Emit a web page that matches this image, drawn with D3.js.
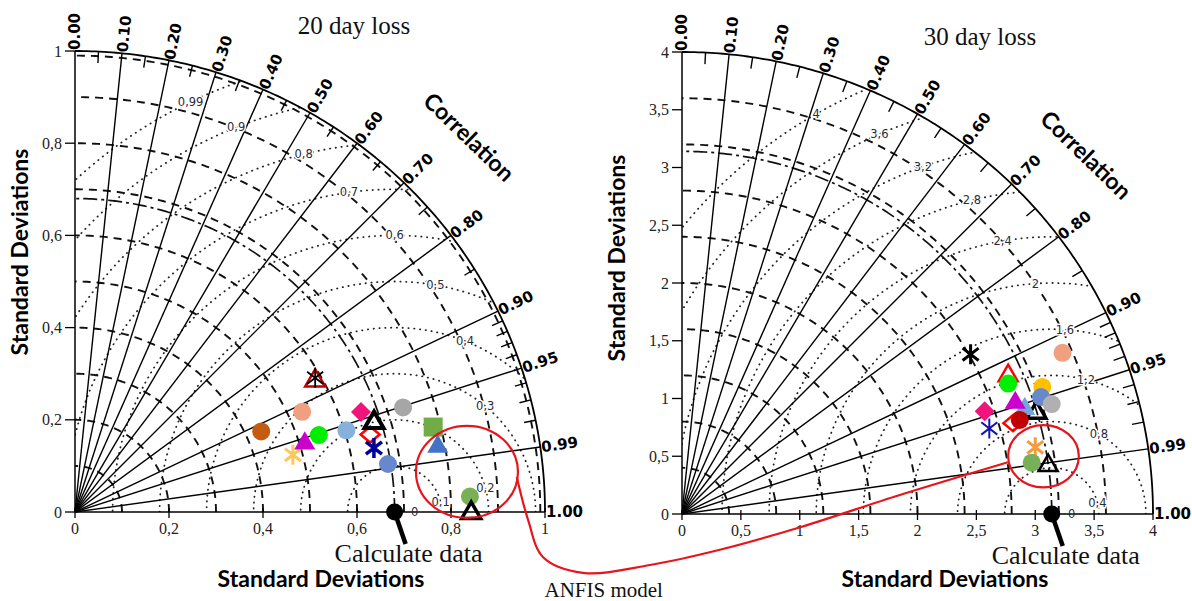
<!DOCTYPE html>
<html>
<head>
<meta charset="utf-8">
<script src="https://cdn.jsdelivr.net/npm/d3@7"></script>
<style>
  body { margin: 0; background: #fff; }
  svg { display: block; }
</style>
</head>
<body>
<svg id="chart" width="1192" height="601"></svg>
<script>
// correlation grid (shared by both diagrams)
const corrLines = [0.1, 0.2, 0.3, 0.4, 0.5, 0.6, 0.7, 0.8, 0.9, 0.95, 0.99];
const corrLabels = [0, 0.1, 0.2, 0.3, 0.4, 0.5, 0.6, 0.7, 0.8, 0.9, 0.95, 0.99, 1];
const corrMinor = [0.05, 0.15, 0.25, 0.35, 0.45, 0.55, 0.65, 0.75, 0.85,
                   0.91, 0.92, 0.93, 0.94, 0.96, 0.97, 0.98];

// 20 day loss
const loss20Ticks = [0, 0.2, 0.4, 0.6, 0.8, 1];
const loss20StdArcs = [0.1, 0.2, 0.3, 0.4, 0.5, 0.6, 0.7, 0.8, 0.9, 0.99];
const loss20RmsArcs = [0.1, 0.2, 0.3, 0.4, 0.5, 0.6, 0.7, 0.8, 0.9, 0.99];
const loss20RmsLabels = ["0,1", "0,2", "0,3", "0,4", "0,5", "0,6", "0,7", "0,8", "0,9", "0,99"];
const loss20Ref = 0.68;
const loss20Std = [0.433, 0.530, 0.480, 0.513, 0.545, 0.604, 0.646, 0.650, 0.667,
                   0.651, 0.674, 0.734, 0.784, 0.786, 0.841, 0.843, 0.588];
const loss20Corr = [0.915, 0.912, 0.966, 0.953, 0.952, 0.956, 0.942, 0.966, 0.954,
                    0.977, 0.988, 0.951, 0.972, 0.982, 0.9992, 0.99999, 0.869];

// 30 day loss
const loss30Ticks = [0, 0.5, 1, 1.5, 2, 2.5, 3, 3.5, 4];
const loss30StdArcs = [0.4, 0.8, 1.2, 1.6, 2.0, 2.4, 2.8, 3.2, 3.6];
const loss30RmsArcs = [0.4, 0.8, 1.2, 1.6, 2.0, 2.4, 2.8, 3.2, 3.6, 4.0];
const loss30RmsLabels = ["0,4", "0,8", "1,2", "1,6", "2", "2,4", "2,8", "3,2", "3,6", "4"];
const loss30Ref = 3.14;
const loss30Std = [3.142, 3.058, 2.998, 3.027, 2.992, 3.252, 3.213, 3.281, 3.520,
                   2.814, 2.720, 2.919, 2.982, 2.713, 3.055, 3.003, 3.141];
const loss30Corr = [0.958, 0.952, 0.944, 0.915, 0.926, 0.941, 0.949, 0.957, 0.918,
                    0.871, 0.945, 0.963, 0.962, 0.962, 0.982, 0.989, 0.990];

// marker look for each model (same order as the values above)
const loss20Style = [
  ["dot", "#C55A11"], ["dot", "#F0A080"], ["star", "#FFC65A", 3], ["tri", "#CC00CC"],
  ["dot", "#00EE00"], ["dot", "#88B0DC"], ["dia", "#F0147C"], ["diaOpen", "#FF0000"],
  ["triOpen", "#000000", 4], ["star", "#00009A", 3.5], ["dot", "#6688CC"], ["dot", "#A6A6A6"],
  ["sq", "#70AD47"], ["tri", "#4472C4"], ["dot", "#78B058"], ["triOpen", "#000000", 3.5],
  ["triStar", "#C00000"]
];
const loss30Style = [
  ["triOpen", "#000000", 3.5], ["tri", "#75A5DA"], ["tri", "#CC00CC"], ["triOpen", "#FF0000", 2.5],
  ["dot", "#00EE00"], ["dot", "#FFC000"], ["dot", "#6688CC"], ["dot", "#B0B0B0"],
  ["dot", "#F0A080"], ["star", "#000000", 3], ["dia", "#F0147C"], ["diaOpen", "#FF0000"],
  ["dot", "#C00000"], ["star", "#1414B4", 2], ["star", "#F79A3E", 3], ["dot", "#78B058"],
  ["triOpen", "#000000", 2.5]
];

// where the small RMS labels sit on their circles (degrees, seen from the reference point)
const loss20LabelAngle = [12, 15, 50, 68, 80, 90, 98, 104, 112, 116];
const loss30LabelAngle = [14, 60, 76, 86, 94, 100, 104, 110, 114, 120];

// ANFIS highlight (ellipse centres / radii in each diagram's own units)
const anfis20 = { cx: 0.834, cy: 0.087, rx: 0.1085, ry: 0.1 };
const anfis30 = { cx: 3.07, cy: 0.50, rx: 0.30, ry: 0.27 };
// connecting curve, in 20 day loss units
const anfisLink = [[0.940, 0.076], [0.964, -0.017], [0.996, -0.098], [1.081, -0.132],
                   [1.223, -0.115], [1.372, -0.082], [1.543, -0.033], [1.755, 0.037],
                   [1.985, 0.108]];

const svg = d3.select("#chart");
svg.append("rect").attr("width", 1192).attr("height", 601).attr("fill", "#fff");

const fmt = (d) => String(d).replace(".", ",");
const rad = Math.PI / 180;

const panels = [
  {
    id: "d20", title: "20 day loss", max: 1, ticks: loss20Ticks,
    stdArcs: loss20StdArcs, rmsArcs: loss20RmsArcs, rmsLabels: loss20RmsLabels,
    labelAngle: loss20LabelAngle, ref: loss20Ref, std: loss20Std, corr: loss20Corr,
    style: loss20Style, anfis: anfis20,
    xRange: [75, 545], yRange: [512, 51],
    titlePos: [354, 34], yLabelPos: [28, 252], xLabelPos: [321, 587], corrPos: [469, 137]
  },
  {
    id: "d30", title: "30 day loss", max: 4, ticks: loss30Ticks,
    stdArcs: loss30StdArcs, rmsArcs: loss30RmsArcs, rmsLabels: loss30RmsLabels,
    labelAngle: loss30LabelAngle, ref: loss30Ref, std: loss30Std, corr: loss30Corr,
    style: loss30Style, anfis: anfis30,
    xRange: [682, 1153], yRange: [514, 52],
    titlePos: [980, 45], yLabelPos: [625, 258], xLabelPos: [945, 587], corrPos: [1086, 155]
  }
];

function drawMark(g, kind, color, w, cx, cy) {
  const m = g.append("g").attr("transform", `translate(${cx},${cy})`);
  const tri = (s) => {
    const h = s * 0.866;
    return `M0,${-h / 2}L${s / 2},${h / 2}L${-s / 2},${h / 2}Z`;
  };
  const star = (a, col, sw) => {
    m.append("path")
      .attr("d", `M0,${-a}V${a}M${-a * 0.8},${-a * 0.62}L${a * 0.8},${a * 0.62}M${-a * 0.8},${a * 0.62}L${a * 0.8},${-a * 0.62}`)
      .attr("stroke", col).attr("stroke-width", sw).attr("fill", "none");
  };
  if (kind === "dot") {
    m.append("circle").attr("r", 9).attr("fill", color);
  } else if (kind === "tri") {
    m.append("path").attr("d", tri(21)).attr("fill", color);
  } else if (kind === "triOpen") {
    m.append("path").attr("d", tri(19)).attr("fill", "none")
      .attr("stroke", color).attr("stroke-width", w || 3).attr("stroke-linejoin", "miter");
  } else if (kind === "dia") {
    m.append("path").attr("d", "M0,-10L10,0L0,10L-10,0Z").attr("fill", color);
  } else if (kind === "diaOpen") {
    m.append("path").attr("d", "M0,-8L9.5,0L0,8L-9.5,0Z").attr("fill", "none")
      .attr("stroke", color).attr("stroke-width", 2.5);
  } else if (kind === "sq") {
    m.append("rect").attr("x", -9.5).attr("y", -9.5).attr("width", 19).attr("height", 19).attr("fill", color);
  } else if (kind === "star") {
    star(10, color, w || 3);
  } else if (kind === "triStar") {
    m.append("path").attr("d", tri(20)).attr("fill", "none")
      .attr("stroke", color).attr("stroke-width", 2.5);
    star(10, "#000", 1.8);
  }
}

const scales = {};

panels.forEach((p) => {
  const x = d3.scaleLinear().domain([0, p.max]).range(p.xRange);
  const y = d3.scaleLinear().domain([0, p.max]).range(p.yRange);
  scales[p.id] = { x, y };
  const g = svg.append("g").attr("class", "taylor " + p.id);
  const pt = (r, th) => [x(r * Math.cos(th)), y(r * Math.sin(th))];
  const quarter = d3.range(0, 90.25, 0.5).map((a) => a * rad);
  const arc = (r) => d3.line()(quarter.map((t) => pt(r, t)));

  // clip region = inside the quarter circle
  const clipId = "clip-" + p.id;
  g.append("clipPath").attr("id", clipId).append("path")
    .attr("d", d3.line()([[x(0), y(0)], ...quarter.map((t) => pt(p.max, t))]) + "Z");

  // RMS circles around the reference point (dotted)
  const half = d3.range(0, 180.5, 1).map((a) => a * rad);
  const rms = g.append("g").attr("clip-path", `url(#${clipId})`);
  p.rmsArcs.forEach((d) => {
    rms.append("path")
      .attr("d", d3.line()(half.map((f) => [x(p.ref + d * Math.cos(f)), y(d * Math.sin(f))])))
      .attr("fill", "none").attr("stroke", "#222").attr("stroke-width", 1.8)
      .attr("stroke-linecap", "round").attr("stroke-dasharray", "0.3,5.5");
  });

  // standard deviation arcs (dashed) and the reference arc (dash-dot)
  p.stdArcs.forEach((r) => {
    g.append("path").attr("d", arc(r)).attr("fill", "none")
      .attr("stroke", "#111").attr("stroke-width", 1.9).attr("stroke-dasharray", "8,6");
  });
  g.append("path").attr("d", arc(p.ref)).attr("fill", "none")
    .attr("stroke", "#111").attr("stroke-width", 1.7).attr("stroke-dasharray", "14,4,3,4");

  // correlation rays
  corrLines.forEach((c) => {
    const th = Math.acos(c);
    g.append("line")
      .attr("x1", x(0)).attr("y1", y(0))
      .attr("x2", pt(p.max, th)[0]).attr("y2", pt(p.max, th)[1])
      .attr("stroke", "#000").attr("stroke-width", 1.4);
  });
  corrMinor.forEach((c) => {
    const th = Math.acos(c);
    const a = pt(p.max * 0.975, th), b = pt(p.max, th);
    g.append("line").attr("x1", a[0]).attr("y1", a[1]).attr("x2", b[0]).attr("y2", b[1])
      .attr("stroke", "#000").attr("stroke-width", 1.4);
  });

  // outer arc and axes
  g.append("path").attr("d", arc(p.max)).attr("fill", "none")
    .attr("stroke", "#000").attr("stroke-width", 1.8);
  g.append("line").attr("x1", x(0)).attr("y1", y(0)).attr("x2", x(0)).attr("y2", y(p.max))
    .attr("stroke", "#000").attr("stroke-width", 1.5);
  g.append("line").attr("x1", x(0)).attr("y1", y(0)).attr("x2", x(p.max)).attr("y2", y(0))
    .attr("stroke", "#000").attr("stroke-width", 1.5);

  // axis ticks and tick labels
  p.ticks.forEach((t) => {
    g.append("line").attr("x1", x(0) - 10).attr("x2", x(0)).attr("y1", y(t)).attr("y2", y(t))
      .attr("stroke", "#000").attr("stroke-width", 1.3);
    g.append("line").attr("x1", x(t)).attr("x2", x(t)).attr("y1", y(0) - 4).attr("y2", y(0) + 6)
      .attr("stroke", "#000").attr("stroke-width", 1.3);
    g.append("text").attr("x", x(0) - 13).attr("y", y(t)).attr("dy", "0.35em")
      .attr("text-anchor", "end").attr("font-family", "Liberation Serif, serif")
      .attr("font-size", 16).attr("fill", "#222").text(fmt(t));
    g.append("text").attr("x", x(t)).attr("y", y(0) + 22)
      .attr("text-anchor", "middle").attr("font-family", "Liberation Serif, serif")
      .attr("font-size", 16).attr("fill", "#222").text(fmt(t));
  });

  // correlation labels around the arc
  corrLabels.forEach((c) => {
    const th = Math.acos(c);
    const [px, py] = pt(p.max, th);
    g.append("text")
      .attr("transform", `translate(${px},${py}) rotate(${-th / rad})`)
      .attr("x", 1).attr("dy", "0.36em")
      .attr("font-family", "DejaVu Sans, sans-serif").attr("font-weight", "bold")
      .attr("font-size", 15).attr("fill", "#000").text(c.toFixed(2));
  });

  // RMS labels
  p.rmsArcs.forEach((d, i) => {
    const f = p.labelAngle[i] * rad;
    g.append("text")
      .attr("x", x(p.ref + d * Math.cos(f))).attr("y", y(d * Math.sin(f))).attr("dy", "0.35em")
      .attr("text-anchor", "middle").attr("font-family", "DejaVu Sans, sans-serif")
      .attr("font-size", 11.5).attr("fill", "#2a2a3a")
      .attr("stroke", "#fff").attr("stroke-width", 3).attr("paint-order", "stroke")
      .text(p.rmsLabels[i]);
  });
  g.append("text").attr("x", x(p.ref) + 20).attr("y", y(0)).attr("dy", "0.35em")
    .attr("text-anchor", "middle").attr("font-family", "DejaVu Sans, sans-serif")
    .attr("font-size", 11.5).attr("fill", "#2a2a3a").text("0");

  // model points
  p.std.forEach((s, i) => {
    const [px, py] = pt(s, Math.acos(p.corr[i]));
    const [kind, color, w] = p.style[i];
    drawMark(g, kind, color, w, px, py);
  });

  // reference ("Calculate data")
  const rx0 = x(p.ref), ry0 = y(0);
  g.append("line").attr("x1", rx0).attr("y1", ry0).attr("x2", rx0 + 11).attr("y2", ry0 + 32)
    .attr("stroke", "#000").attr("stroke-width", 4.5);
  g.append("circle").attr("cx", rx0).attr("cy", ry0).attr("r", 8.5).attr("fill", "#000");
  g.append("text").attr("x", rx0 + 14).attr("y", ry0 + 50).attr("text-anchor", "middle")
    .attr("font-family", "Liberation Serif, serif").attr("font-size", 26).attr("fill", "#111")
    .text("Calculate data");

  // ANFIS ellipse
  g.append("ellipse")
    .attr("cx", x(p.anfis.cx)).attr("cy", y(p.anfis.cy))
    .attr("rx", x(p.anfis.rx) - x(0)).attr("ry", y(0) - y(p.anfis.ry))
    .attr("fill", "none").attr("stroke", "#E8141B").attr("stroke-width", 2.2);

  // titles and axis names
  g.append("text").attr("x", p.titlePos[0]).attr("y", p.titlePos[1]).attr("text-anchor", "middle")
    .attr("font-family", "Liberation Serif, serif").attr("font-size", 25).attr("fill", "#111")
    .text(p.title);
  g.append("text")
    .attr("transform", `translate(${p.yLabelPos[0]},${p.yLabelPos[1]}) rotate(-90)`)
    .attr("text-anchor", "middle").attr("font-family", "Lato, sans-serif").attr("font-weight", "bold")
    .attr("font-size", 23).attr("fill", "#000").text("Standard Deviations");
  g.append("text").attr("x", p.xLabelPos[0]).attr("y", p.xLabelPos[1]).attr("text-anchor", "middle")
    .attr("font-family", "Lato, sans-serif").attr("font-weight", "bold")
    .attr("font-size", 23).attr("fill", "#000").text("Standard Deviations");
  g.append("text")
    .attr("transform", `translate(${p.corrPos[0]},${p.corrPos[1]}) rotate(44)`)
    .attr("text-anchor", "middle").attr("dy", "0.35em")
    .attr("font-family", "Lato, sans-serif").attr("font-weight", "bold")
    .attr("font-size", 23).attr("fill", "#000").text("Correlation");
});

// ANFIS connector between the two highlighted groups
const s20 = scales.d20;
svg.append("path")
  .attr("d", d3.line().curve(d3.curveCatmullRom)(anfisLink.map((d) => [s20.x(d[0]), s20.y(d[1])])))
  .attr("fill", "none").attr("stroke", "#E8141B").attr("stroke-width", 2.2);
svg.append("text").attr("x", s20.x(1.125)).attr("y", 597).attr("text-anchor", "middle")
  .attr("font-family", "Liberation Serif, serif").attr("font-size", 21).attr("fill", "#111")
  .text("ANFIS model");
</script>
</body>
</html>
